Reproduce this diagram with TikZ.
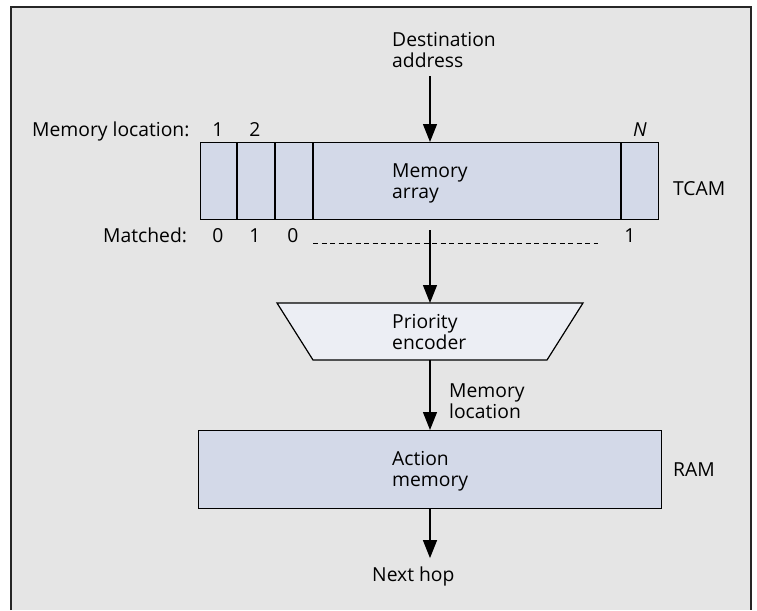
\documentclass[tikz,border=0pt]{standalone}
\usepackage{fontspec}
\setmainfont{Open Sans}
\usetikzlibrary{arrows.meta}
\definecolor{bgc}{HTML}{E5E5E5}
\definecolor{boxc}{HTML}{D3D9E8}
\definecolor{encc}{HTML}{ECEEF4}
\begin{document}
\begin{tikzpicture}[x=1pt,y=-1pt,
  every node/.style={font=\fontsize{19.3}{21}\selectfont, inner sep=0pt, text=black},
  lbl/.style={align=left, anchor=north west},
  memrect/.style={draw=black, line width=1.2pt, fill=boxc},
  arr/.style={draw=black, line width=1.3pt, -{Triangle[width=14pt,length=18pt]}},
  dashline/.style={draw=black, line width=0.9pt, dash pattern=on 5pt off 3.5pt}]
\useasboundingbox (0,0) rectangle (757,610);
\fill[bgc] (11,7) rectangle (751,610);
\draw[line width=1.6pt, black!85] (11,610) -- (11,7) -- (751,7) -- (751,610);
% top input
\node[lbl] (dest) at (392,32.5) {Destination\\address};
\coordinate (din) at (430,76);
% TCAM
\node[memrect, minimum width=458pt, minimum height=77pt, anchor=north west] (tcam) at (200,142) {};
\draw[line width=1.2pt] (237,142) -- (237,219);
\draw[line width=1.2pt] (275,142) -- (275,219);
\draw[line width=1.2pt] (313,142) -- (313,219);
\draw[line width=1.2pt] (621,142) -- (621,219);
\node[lbl] (marr) at (392,163.5) {Memory\\array};
\node[anchor=base west] (tcaml) at (673,195) {TCAM};
\node[anchor=base west] (mloc) at (32,136) {Memory location:};
\node[anchor=base] (l1) at (218,136) {1};
\node[anchor=base] (l2) at (255,136) {2};
\node[anchor=base] (lN) at (640,136) {\itshape N};
\node[anchor=base west] (match) at (103,242) {Matched:};
\node[anchor=base] (m1) at (218,242) {0};
\node[anchor=base] (m2) at (255,242) {1};
\node[anchor=base] (m3) at (293,242) {0};
\node[anchor=base] (mN) at (630,242) {1};
\coordinate (dl) at (313,243.5);
\coordinate (dr) at (598,243.5);
\draw[dashline] (dl) -- (dr);
\coordinate (dmid) at (430,230);
% priority encoder
\draw[line width=1.2pt, fill=encc] (277,303) -- (583,303) -- (547,360) -- (313,360) -- cycle;
\coordinate (enctop) at (430,303);
\coordinate (encbot) at (430,360);
\node[lbl] (enc) at (392,314.5) {Priority\\encoder};
% RAM
\node[memrect, minimum width=463pt, minimum height=78pt, anchor=north west] (ram) at (198,430) {};
\node[lbl] (act) at (392,451.5) {Action\\memory};
\node[anchor=base west] (raml) at (673,476) {RAM};
\node[lbl] (mlab) at (449,383.5) {Memory\\location};
\node[anchor=base west] (hop) at (372,581) {Next hop};
\path (hop.north) ++(0,-8) coordinate (hopin);
% arrows
\draw[arr] (din) -- (tcam.north -| din);
\draw[arr] (dmid) -- (enctop);
\draw[arr] (encbot) -- (ram.north -| encbot);
\draw[arr] (ram.south -| encbot) -- (hopin -| encbot);
\end{tikzpicture}
\end{document}
